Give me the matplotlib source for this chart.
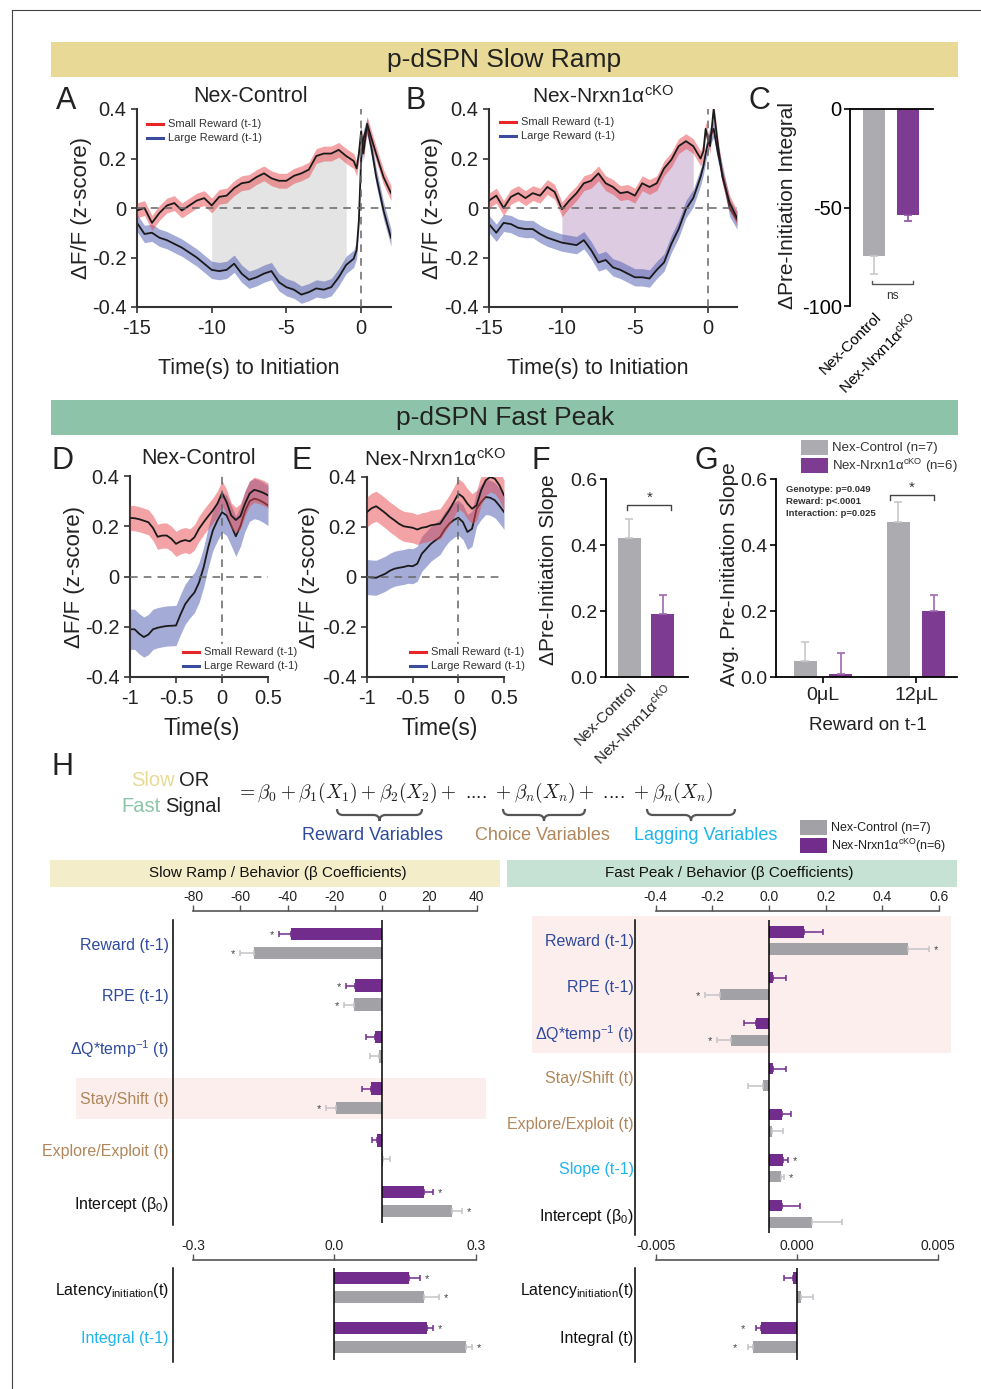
import numpy as np
import matplotlib.pyplot as plt
from matplotlib.patches import Rectangle, PathPatch
from matplotlib.path import Path

plt.rcParams['font.family'] = ['Liberation Sans', 'DejaVu Sans']
plt.rcParams['mathtext.fontset'] = 'custom'
plt.rcParams['mathtext.rm'] = 'Liberation Sans'
plt.rcParams['mathtext.it'] = 'Liberation Sans:italic'
plt.rcParams['mathtext.bf'] = 'Liberation Sans:bold'

###########################################
###  data          ###

# A / B : slow ramp traces (time to initiation, s)
t_slow = [-15, -14.5, -14, -13.5, -13, -12.5, -12, -11.5, -11, -10.5, -10, -9.5, -9, -8.5, -8,
          -7.5, -7, -6.5, -6, -5.5, -5, -4.5, -4, -3.5, -3, -2.5, -2, -1.5, -1, -0.5, -0.3,
          -0.15, 0, 0.15, 0.4, 0.7, 1, 1.5, 2]
ctrl_small = [-0.01, 0.0, -0.06, -0.02, 0.01, 0.02, -0.01, 0.01, 0.03, 0.04, 0.01, 0.045, 0.05,
              0.08, 0.10, 0.105, 0.125, 0.14, 0.12, 0.11, 0.11, 0.13, 0.14, 0.155, 0.21, 0.22,
              0.22, 0.235, 0.21, 0.19, 0.16, 0.22, 0.31, 0.22, 0.34, 0.28, 0.22, 0.125, 0.06]
ctrl_large = [-0.06, -0.105, -0.10, -0.12, -0.13, -0.145, -0.16, -0.18, -0.20, -0.225, -0.25,
              -0.255, -0.25, -0.225, -0.265, -0.29, -0.28, -0.265, -0.255, -0.30, -0.32, -0.33,
              -0.35, -0.34, -0.325, -0.33, -0.32, -0.28, -0.23, -0.205, -0.17, -0.05, 0.20,
              0.28, 0.33, 0.24, 0.13, -0.01, -0.12]
cko_small = [0.03, 0.05, 0.0, 0.045, 0.06, 0.04, 0.06, 0.05, 0.085, 0.065, -0.005, 0.03, 0.06,
             0.10, 0.11, 0.14, 0.10, 0.085, 0.06, 0.065, 0.05, 0.10, 0.085, 0.10, 0.16, 0.195,
             0.25, 0.27, 0.25, 0.20, 0.23, 0.32, 0.28, 0.25, 0.40, 0.25, 0.125, 0.02, -0.04]
cko_large = [-0.065, -0.10, -0.06, -0.065, -0.08, -0.085, -0.085, -0.105, -0.12, -0.13, -0.14,
             -0.145, -0.15, -0.13, -0.17, -0.22, -0.21, -0.24, -0.25, -0.265, -0.28, -0.28,
             -0.285, -0.25, -0.22, -0.145, -0.085, -0.005, 0.04, 0.125, 0.17, 0.22, 0.26, 0.29,
             0.32, 0.22, 0.14, 0.0, -0.05]
sem_slow_small = 0.03
sem_slow_large = 0.035

# D / E : fast peak traces (s)
t_fast = [-1, -0.95, -0.9, -0.85, -0.8, -0.75, -0.7, -0.65, -0.6, -0.55, -0.5, -0.45, -0.4,
          -0.35, -0.3, -0.25, -0.2, -0.15, -0.1, -0.05, 0, 0.05, 0.1, 0.15, 0.2, 0.25, 0.3,
          0.35, 0.4, 0.45, 0.5]
ctrl_small_fast = [0.233, 0.232, 0.228, 0.222, 0.216, 0.193, 0.158, 0.163, 0.163, 0.15, 0.13,
                   0.14, 0.145, 0.14, 0.156, 0.19, 0.216, 0.24, 0.263, 0.29, 0.332, 0.296,
                   0.243, 0.225, 0.24, 0.29, 0.33, 0.345, 0.34, 0.333, 0.323]
ctrl_large_fast = [-0.21, -0.21, -0.228, -0.241, -0.231, -0.21, -0.204, -0.2, -0.197, -0.196,
                   -0.195, -0.15, -0.11, -0.085, -0.064, -0.024, 0.036, 0.116, 0.183, 0.223,
                   0.256, 0.243, 0.203, 0.16, 0.20, 0.26, 0.30, 0.31, 0.305, 0.295, 0.283]
cko_small_fast = [0.26, 0.275, 0.283, 0.27, 0.256, 0.24, 0.227, 0.213, 0.203, 0.2, 0.197, 0.19,
                  0.197, 0.2, 0.207, 0.21, 0.213, 0.24, 0.267, 0.3, 0.333, 0.32, 0.293, 0.273,
                  0.287, 0.347, 0.387, 0.4, 0.393, 0.367, 0.327]
cko_large_fast = [0.0, -0.002, -0.003, 0.005, 0.013, 0.025, 0.033, 0.037, 0.04, 0.045, 0.043,
                  0.053, 0.093, 0.113, 0.133, 0.147, 0.16, 0.19, 0.213, 0.228, 0.237, 0.22, 0.18,
                  0.193, 0.273, 0.30, 0.32, 0.317, 0.307, 0.285, 0.26]
sem_ctrl_small_fast = 0.05
sem_ctrl_large_fast = 0.08
sem_cko_small_fast = 0.06
sem_cko_large_fast = 0.07

# C, F, G bars
genotypes = ['Nex-Control', 'Nex-Nrxn1α$^{\\mathrm{cKO}}$']
integral_mean = [-74.5, -54]
integral_sem = [9.5, 3]
slope_mean = [0.42, 0.19]
slope_sem = [0.06, 0.06]
reward_groups = ['0μL', '12μL']
avg_slope_ctrl = [0.05, 0.47]
avg_slope_ctrl_sem = [0.055, 0.06]
avg_slope_cko = [0.008, 0.20]
avg_slope_cko_sem = [0.065, 0.05]
stats_text = ['Genotype: p=0.049', 'Reward: p<.0001', 'Interaction: p=0.025']

# H : regression coefficients
slow_vars = ['Reward (t-1)', 'RPE (t-1)', 'ΔQ*temp$^{-1}$ (t)', 'Stay/Shift (t)',
             'Explore/Exploit (t)', 'Intercept (β$_0$)']
slow_cko = [-38.4, -11.6, -3.1, -4.8, -2.0, 17.6]
slow_cko_sem = [5.2, 3.8, 3.5, 3.5, 2.4, 4.0]
slow_ctrl = [-54.2, -11.9, -1.3, -19.3, 0.4, 29.8]
slow_ctrl_sem = [5.9, 4.3, 3.9, 4.5, 2.8, 4.2]
slow_cko_sig = [1, 1, 0, 0, 0, 1]
slow_ctrl_sig = [1, 1, 0, 1, 0, 1]

fast_vars = ['Reward (t-1)', 'RPE (t-1)', 'ΔQ*temp$^{-1}$ (t)', 'Stay/Shift (t)',
             'Explore/Exploit (t)', 'Slope (t-1)', 'Intercept (β$_0$)']
fast_cko = [0.122, 0.014, -0.045, 0.014, 0.047, 0.049, 0.046]
fast_cko_sem = [0.068, 0.047, 0.042, 0.045, 0.031, 0.017, 0.062]
fast_ctrl = [0.489, -0.174, -0.136, -0.021, 0.011, 0.041, 0.152]
fast_ctrl_sem = [0.077, 0.052, 0.048, 0.054, 0.038, 0.013, 0.106]
fast_cko_sig = [0, 0, 0, 0, 0, 1, 0]
fast_ctrl_sig = [1, 1, 1, 0, 0, 1, 0]

slow_lag_vars = ['Latency$_{\\mathrm{initiation}}$(t)', 'Integral (t-1)']
slow_lag_cko = [0.158, 0.196]
slow_lag_cko_sem = [0.024, 0.013]
slow_lag_ctrl = [0.189, 0.279]
slow_lag_ctrl_sem = [0.033, 0.013]
slow_lag_cko_sig = [1, 1]
slow_lag_ctrl_sig = [1, 1]

fast_lag_vars = ['Latency$_{\\mathrm{initiation}}$(t)', 'Integral (t)']
fast_lag_cko = [-0.00014, -0.00128]
fast_lag_cko_sem = [0.00032, 0.00018]
fast_lag_ctrl = [0.00014, -0.00156]
fast_lag_ctrl_sem = [0.00043, 0.00018]
fast_lag_cko_sig = [0, 1]
fast_lag_ctrl_sig = [0, 1]

###########################################
###  colours                            ###
RED_BAND = '#E8474C'
BLUE_BAND = '#4A58B0'
GRAY = '#ACABB0'
PURPLE = '#7E3B92'
H_GRAY = '#A2A1A6'
H_PURPLE = '#722C8B'
C_REW = '#2F4A9E'
C_CHO = '#B0865A'
C_LAG = '#1EB4EE'
SLOW_BG = '#E8DA96'
FAST_BG = '#8DC4A9'
TICK = 14.5

W, H = 981, 1389
fig = plt.figure(figsize=(W / 100, H / 100), dpi=100)
bg = fig.add_axes([0, 0, 1, 1], zorder=0)
bg.set_xlim(0, W)
bg.set_ylim(H, 0)
bg.axis('off')
top = fig.add_axes([0, 0, 1, 1], zorder=5)
top.set_xlim(0, W)
top.set_ylim(H, 0)
top.axis('off')


def px_axes(l, t, r, b):
    ax = fig.add_axes([l / W, 1 - b / H, (r - l) / W, (b - t) / H], zorder=1)
    ax.set_facecolor('none')
    return ax


def style(ax, color='#333333', lw=1.5, size=TICK):
    for s in ['top', 'right']:
        ax.spines[s].set_visible(False)
    for s in ['left', 'bottom']:
        ax.spines[s].set_color(color)
        ax.spines[s].set_linewidth(lw)
    ax.tick_params(direction='out', length=4, width=1.2, colors=color, labelsize=size,
                   labelcolor='#222222')


# frame and headers
bg.plot([12, W], [10, 10], color='#444', lw=0.8)
bg.plot([12, 12], [10, H], color='#444', lw=0.8)
bg.add_patch(Rectangle((51, 42), 907, 35, color=SLOW_BG, lw=0))
bg.text(504, 60, 'p-dSPN Slow Ramp', fontsize=19, ha='center', va='center', color='#222')
bg.add_patch(Rectangle((51, 400), 907, 35, color=FAST_BG, lw=0))
bg.text(505, 418, 'p-dSPN Fast Peak', fontsize=19, ha='center', va='center', color='#222')

for lab, x, y in [('A', 56, 101), ('B', 406, 101), ('C', 748, 101), ('D', 51, 461),
                  ('E', 291, 461), ('F', 531, 461), ('G', 694, 461), ('H', 51, 767)]:
    bg.text(x, y, lab, fontsize=22, ha='left', va='center', color='#222')


###########################################
###  trace panels                       ###
def trace_panel(ax, t, small, large, sem_s, sem_l, xlim, xticks, xlabels, diff=None, diff_color=None):
    t = np.array(t)
    small = np.array(small)
    large = np.array(large)
    if diff is not None:
        m = (t >= diff[0]) & (t <= diff[1])
        ax.fill_between(t, large, small, where=m, color=diff_color, lw=0, zorder=1)
    ax.fill_between(t, large - sem_l, large + sem_l, color=BLUE_BAND, alpha=0.5, lw=0, zorder=2)
    ax.plot(t, large, color='#1a1a1a', lw=1.3, zorder=2)
    ax.fill_between(t, small - sem_s, small + sem_s, color=RED_BAND, alpha=0.5, lw=0, zorder=3)
    ax.plot(t, small, color='#1a1a1a', lw=1.3, zorder=3)
    ax.axhline(0, color='#666', ls=(0, (5, 4)), lw=1.1, zorder=4)
    ax.axvline(0, color='#666', ls=(0, (5, 4)), lw=1.1, zorder=4)
    ax.set_xlim(xlim)
    ax.set_ylim(-0.4, 0.4)
    ax.set_xticks(xticks)
    ax.set_xticklabels(xlabels)
    ax.set_yticks([-0.4, -0.2, 0, 0.2, 0.4])
    ax.set_yticklabels(['-0.4', '-0.2', '0', '0.2', '0.4'])
    style(ax)
    ax.tick_params(axis='x', pad=5)
    ax.set_ylabel('ΔF/F (z-score)', fontsize=16, color='#222')


axA = px_axes(137, 109, 391, 307)
trace_panel(axA, t_slow, ctrl_small, ctrl_large, sem_slow_small, sem_slow_large, (-15, 2),
            [-15, -10, -5, 0], ['-15', '-10', '-5', '0'], (-10, -1), '#E4E4E4')
axA.yaxis.set_label_coords(-0.177, 0.5)
axA.set_xlabel('Time(s) to Initiation', fontsize=15.5, color='#222')
axA.xaxis.set_label_coords(0.44, -0.26)

axB = px_axes(489, 109, 737, 307)
trace_panel(axB, t_slow, cko_small, cko_large, sem_slow_small, sem_slow_large, (-15, 2),
            [-15, -10, -5, 0], ['-15', '-10', '-5', '0'], (-10, -1), '#DCCBE1')
axB.yaxis.set_label_coords(-0.185, 0.5)
axB.set_xlabel('Time(s) to Initiation', fontsize=15.5, color='#222')
axB.xaxis.set_label_coords(0.44, -0.26)

axD = px_axes(130, 476, 268, 677)
trace_panel(axD, t_fast, ctrl_small_fast, ctrl_large_fast, sem_ctrl_small_fast, sem_ctrl_large_fast,
            (-1, 0.5), [-1, -0.5, 0, 0.5], ['-1', '-0.5', '0', '0.5'])
axD.yaxis.set_label_coords(-0.326, 0.5)
axD.set_xlabel('Time(s)', fontsize=16.5, color='#222')
axD.xaxis.set_label_coords(0.52, -0.2)

axE = px_axes(367, 477, 504, 677)
trace_panel(axE, t_fast, cko_small_fast, cko_large_fast, sem_cko_small_fast, sem_cko_large_fast,
            (-1, 0.5), [-1, -0.5, 0, 0.5], ['-1', '-0.5', '0', '0.5'])
axE.yaxis.set_label_coords(-0.343, 0.5)
axE.set_xlabel('Time(s)', fontsize=16.5, color='#222')
axE.xaxis.set_label_coords(0.53, -0.2)

bg.text(251, 96, 'Nex-Control', fontsize=15.5, ha='center', va='center', color='#222')
bg.text(603, 96, 'Nex-Nrxn1α$^{\\mathrm{cKO}}$', fontsize=15, ha='center', va='center', color='#222')
bg.text(199, 459, 'Nex-Control', fontsize=15.5, ha='center', va='center', color='#222')
bg.text(435, 459, 'Nex-Nrxn1α$^{\\mathrm{cKO}}$', fontsize=15, ha='center', va='center', color='#222')

# trace legends
for (x0, y0, box) in [(147, 124, False), (500, 122, False), (183, 652, True), (410, 652, True)]:
    if box:
        top.add_patch(Rectangle((x0 - 3, y0 - 8), 110, 30, color='white', lw=0))
    top.plot([x0, x0 + 16], [y0, y0], color='#E8262A', lw=2.2)
    top.plot([x0, x0 + 16], [y0 + 14, y0 + 14], color='#3C4BA0', lw=2.2)
    top.text(x0 + 21, y0, 'Small Reward (t-1)', fontsize=8, va='center', color='#333')
    top.text(x0 + 21, y0 + 14, 'Large Reward (t-1)', fontsize=8, va='center', color='#333')

###########################################
###  C : integral                      ###
axC = px_axes(850, 109, 933, 306)
xc = np.arange(len(genotypes))
axC.bar(xc, integral_mean, width=0.65, color=[GRAY, PURPLE], zorder=2)
axC.errorbar(xc[0], integral_mean[0], yerr=[[integral_sem[0]], [0]], color='#C8C8CC', capsize=3,
             lw=1.2, capthick=1.2, fmt='none')
axC.errorbar(xc[1], integral_mean[1], yerr=[[integral_sem[1]], [0]], color='#8E4FA3', capsize=3,
             lw=1.2, capthick=1.2, fmt='none')
axC.set_xlim(-0.706, 1.735)
axC.set_ylim(-100, 0)
axC.spines['bottom'].set_visible(False)
axC.spines['right'].set_visible(False)
axC.spines['top'].set_color('black')
axC.spines['left'].set_color('black')
axC.spines['top'].set_linewidth(1.3)
axC.spines['left'].set_linewidth(1.3)
axC.set_yticks([0, -50, -100])
axC.set_yticklabels(['0', '-50', '-100'])
axC.tick_params(axis='y', labelsize=TICK, length=4, width=1.2, pad=2)
axC.set_xticks(xc)
axC.set_xticklabels(genotypes, rotation=45, ha='right', rotation_mode='anchor', fontsize=11)
axC.tick_params(axis='x', length=0, pad=3)
axC.plot([-0.05, -0.05, 1.15, 1.15], [-87.5, -89, -89, -87.5], color='#555', lw=1)
axC.text(0.55, -92, 'ns', fontsize=8.5, ha='center', va='top', color='#333')
axC.set_ylabel('ΔPre-Initiation Integral', fontsize=15, color='#222')
axC.yaxis.set_label_coords(-0.64, 0.51)

###########################################
###  F : slope                          ###
axF = px_axes(606, 479, 688, 677)
axF.bar(xc, slope_mean, width=0.68, color=[GRAY, PURPLE], zorder=2)
axF.errorbar(xc[0], slope_mean[0], yerr=[[0], [slope_sem[0]]], color='#C8C8CC', capsize=3,
             lw=1.2, capthick=1.2, fmt='none')
axF.errorbar(xc[1], slope_mean[1], yerr=[[0], [slope_sem[1]]], color='#A06AB3', capsize=3,
             lw=1.2, capthick=1.2, fmt='none')
axF.set_xlim(-0.68, 1.74)
axF.set_ylim(0, 0.6)
style(axF, color='black', lw=1.3, size=14)
axF.tick_params(axis='y', pad=2)
axF.set_yticks([0, 0.2, 0.4, 0.6])
axF.set_yticklabels(['0.0', '0.2', '0.4', '0.6'])
axF.set_xticks(xc)
axF.set_xticklabels(genotypes, rotation=45, ha='right', rotation_mode='anchor', fontsize=11)
axF.tick_params(axis='x', length=0, pad=3)
axF.plot([-0.05, -0.05, 1.25, 1.25], [0.505, 0.52, 0.52, 0.505], color='#444', lw=1)
axF.text(0.6, 0.522, '*', fontsize=11, ha='center', va='bottom', color='#333')
axF.set_ylabel('ΔPre-Initiation Slope', fontsize=15, color='#222')
axF.yaxis.set_label_coords(-0.58, 0.54)

###########################################
###  G : slope by reward                ###
axG = px_axes(776, 479, 957, 677)
xg = np.arange(len(reward_groups))
axG.bar(xg - 0.19, avg_slope_ctrl, width=0.247, color=GRAY, zorder=2)
axG.bar(xg + 0.19, avg_slope_cko, width=0.247, color=PURPLE, zorder=2)
axG.errorbar(xg - 0.19, avg_slope_ctrl, yerr=[[0, 0], avg_slope_ctrl_sem], color='#C8C8CC',
             capsize=3, lw=1.2, capthick=1.2, fmt='none')
axG.errorbar(xg + 0.19, avg_slope_cko, yerr=[[0, 0], avg_slope_cko_sem], color='#A06AB3',
             capsize=3, lw=1.2, capthick=1.2, fmt='none')
axG.set_xlim(-0.505, 1.44)
axG.set_ylim(0, 0.6)
style(axG, color='black', lw=1.3, size=14)
axG.tick_params(axis='y', pad=2)
axG.set_yticks([0, 0.2, 0.4, 0.6])
axG.set_yticklabels(['0.0', '0.2', '0.4', '0.6'])
axG.set_xticks(xg)
axG.set_xticklabels(reward_groups)
axG.set_xlabel('Reward on t-1', fontsize=13.5, color='#222')
axG.xaxis.set_label_coords(0.51, -0.2)
axG.set_ylabel('Avg. Pre-Initiation Slope', fontsize=15, color='#222')
axG.yaxis.set_label_coords(-0.205, 0.52)
axG.plot([0.72, 0.72, 1.19, 1.19], [0.535, 0.552, 0.552, 0.535], color='#444', lw=1)
axG.text(0.955, 0.553, '*', fontsize=11, ha='center', va='bottom', color='#333')
for i, s in enumerate(stats_text):
    bg.text(786, 490 + 11.5 * i, s, fontsize=6.8, fontweight='bold', va='center', color='#333')

# G legend
bg.add_patch(Rectangle((801, 440), 27, 15, color=GRAY, lw=0))
bg.add_patch(Rectangle((801, 458), 27, 15, color=PURPLE, lw=0))
bg.text(832, 447.5, 'Nex-Control (n=7)', fontsize=9.5, va='center', color='#333')
bg.text(832, 465.5, 'Nex-Nrxn1α$^{\\mathrm{cKO}}$ (n=6)', fontsize=9.5, va='center', color='#333')

###########################################
###  H : equation                       ###
bg.text(175, 780, 'Slow', fontsize=14.5, ha='right', va='center', color=SLOW_BG)
bg.text(179, 780, 'OR', fontsize=14.5, ha='left', va='center', color='#222')
bg.text(161, 806, 'Fast', fontsize=14.5, ha='right', va='center', color=FAST_BG)
bg.text(165, 806, 'Signal', fontsize=14.5, ha='left', va='center', color='#222')
bg.text(236, 793,
        r'$= \beta_0 + \beta_1(X_1) + \beta_2(X_2) +\ $....$\ + \beta_n(X_n) +\ $....$\ + \beta_n(X_n)$',
        fontsize=14, ha='left', va='center', color='#222', math_fontfamily='cm')


def brace(x0, x1, y, h=12, color='#555'):
    xm = (x0 + x1) / 2
    q = h / 2
    verts = [(x0, y), (x0, y + q), (x0 + q, y + q), (xm - q, y + q), (xm, y + q), (xm, y + h),
             (xm, y + q), (xm + q, y + q), (x1 - q, y + q), (x1, y + q), (x1, y)]
    codes = [Path.MOVETO, Path.CURVE3, Path.CURVE3, Path.LINETO, Path.CURVE3, Path.CURVE3,
             Path.CURVE3, Path.CURVE3, Path.LINETO, Path.CURVE3, Path.CURVE3]
    bg.add_patch(PathPatch(Path(verts, codes), fill=False, ec=color, lw=1.6))


brace(337, 422, 809)
brace(503, 585, 809)
brace(647, 735, 809)
bg.text(372, 835, 'Reward Variables', fontsize=13, ha='center', va='center', color=C_REW)
bg.text(542, 835, 'Choice Variables', fontsize=13, ha='center', va='center', color=C_CHO)
bg.text(706, 835, 'Lagging Variables', fontsize=13, ha='center', va='center', color=C_LAG)

bg.add_patch(Rectangle((800, 820), 27, 15, color=H_GRAY, lw=0))
bg.add_patch(Rectangle((800, 838), 27, 15, color=H_PURPLE, lw=0))
bg.text(831, 828, 'Nex-Control (n=7)', fontsize=9, va='center', color='#222')
bg.text(831, 846, 'Nex-Nrxn1α$^{\\mathrm{cKO}}$(n=6)', fontsize=9, va='center', color='#222')

bg.add_patch(Rectangle((50, 860), 450, 27, color='#F4EDCA', lw=0))
bg.text(278, 873, 'Slow Ramp / Behavior (β Coefficients)', fontsize=11, ha='center', va='center', color='#111')
bg.add_patch(Rectangle((507, 860), 450, 27, color='#C6E2D4', lw=0))
bg.text(729, 873, 'Fast Peak / Behavior (β Coefficients)', fontsize=11, ha='center', va='center', color='#111')

# highlighted rows
bg.add_patch(Rectangle((76, 1078), 410, 41, color='#FDEEEE', lw=0))
bg.add_patch(Rectangle((532, 916), 419, 137, color='#FDEEEE', lw=0))


###########################################
###  H : coefficient bars               ###
def coef_panel(box, xlim, ylim, ybot_line, ticks, ticklabels, bounds, names, name_colors,
               cko, cko_sem, ctrl, ctrl_sem, cko_sig, ctrl_sig, off=0.185, bh=0.245,
               star_gap=5, label_pad=3):
    ax = px_axes(*box)
    y = np.arange(len(names))
    ax.barh(y - off, cko, height=bh, color=H_PURPLE, zorder=2)
    ax.barh(y + off, ctrl, height=bh, color=H_GRAY, zorder=2)
    for vals, sems, sig, yy, ecol in [(cko, cko_sem, cko_sig, y - off, H_PURPLE),
                                       (ctrl, ctrl_sem, ctrl_sig, y + off, '#C4C4C8')]:
        for v, s, g, yi in zip(vals, sems, sig, yy):
            xerr = [[0], [s]] if v >= 0 else [[s], [0]]
            ax.errorbar(v, yi, xerr=xerr, color=ecol, capsize=2.5, lw=1.1, capthick=1.1,
                        fmt='none', zorder=3)
            if g:
                end = v + s if v >= 0 else v - s
                dx = star_gap if v >= 0 else -star_gap
                ax.annotate('*', (end, yi), xytext=(dx, -1), textcoords='offset points',
                            fontsize=8, ha='center', va='center', color='#444')
    ax.set_xlim(xlim)
    ax.set_ylim(ylim)
    ax.vlines(0, ybot_line, ylim[0] - 0.04, color='black', lw=1.1, zorder=4)
    for s in ['right', 'bottom']:
        ax.spines[s].set_visible(False)
    ax.spines['left'].set_color('black')
    ax.spines['left'].set_linewidth(1.1)
    ax.spines['left'].set_bounds(ybot_line, ylim[0])
    ax.spines['top'].set_color('#555')
    ax.spines['top'].set_linewidth(1.2)
    ax.spines['top'].set_bounds(*bounds)
    ax.xaxis.tick_top()
    ax.set_xticks(ticks)
    ax.set_xticklabels(ticklabels)
    ax.tick_params(axis='x', direction='out', length=4, width=1, colors='#555', labelsize=10,
                   labelcolor='#222', pad=1)
    ax.set_yticks(y)
    ax.set_yticklabels(names, fontsize=11.5)
    ax.tick_params(axis='y', length=0, pad=label_pad)
    for lab, c in zip(ax.get_yticklabels(), name_colors):
        lab.set_color(c)
    return ax


coef_panel((173, 911, 486, 1225), (-88.47, 44.02), (5.455, -0.630), -0.455,
           [-80, -60, -40, -20, 0, 20, 40], ['-80', '-60', '-40', '-20', '0', '20', '40'], (-80, 40),
           slow_vars, [C_REW, C_REW, C_REW, C_CHO, C_CHO, '#111'],
           slow_cko, slow_cko_sem, slow_ctrl, slow_ctrl_sem, slow_cko_sig, slow_ctrl_sig)

coef_panel((635, 911, 951, 1235), (-0.473, 0.642), (6.461, -0.647), -0.45,
           [-0.4, -0.2, 0, 0.2, 0.4, 0.6], ['-0.4', '-0.2', '0.0', '0.2', '0.4', '0.6'], (-0.4, 0.6),
           fast_vars, [C_REW, C_REW, C_REW, C_CHO, C_CHO, C_LAG, '#111'],
           fast_cko, fast_cko_sem, fast_ctrl, fast_ctrl_sem, fast_cko_sig, fast_ctrl_sig,
           label_pad=1)

coef_panel((173, 1260, 486, 1362), (-0.342, 0.321), (1.49, -0.55), -0.39,
           [-0.3, 0, 0.3], ['-0.3', '0.0', '0.3'], (-0.3, 0.3),
           slow_lag_vars, ['#111', C_LAG],
           slow_lag_cko, slow_lag_cko_sem, slow_lag_ctrl, slow_lag_ctrl_sem,
           slow_lag_cko_sig, slow_lag_ctrl_sig, off=0.19, bh=0.24)

coef_panel((635, 1260, 951, 1362), (-0.005745, 0.005461), (1.49, -0.55), -0.39,
           [-0.005, 0, 0.005], ['-0.005', '0.000', '0.005'], (-0.005, 0.005),
           fast_lag_vars, ['#111', '#111'],
           fast_lag_cko, fast_lag_cko_sem, fast_lag_ctrl, fast_lag_ctrl_sem,
           fast_lag_cko_sig, fast_lag_ctrl_sig, off=0.19, bh=0.24, star_gap=9, label_pad=1)

fig.savefig('out.png', dpi=100)
